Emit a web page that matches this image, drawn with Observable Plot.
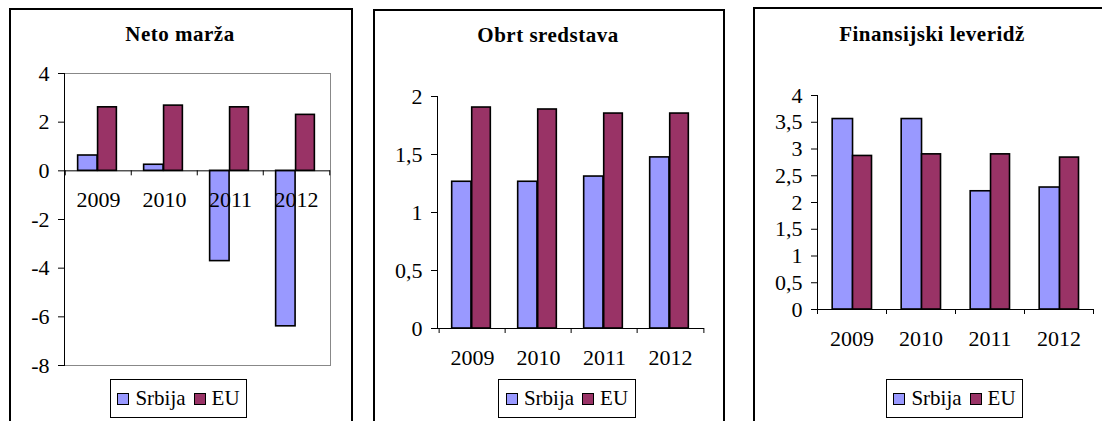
<!DOCTYPE html>
<html><head><meta charset="utf-8">
<script src="https://cdn.jsdelivr.net/npm/d3@7"></script>
<script src="https://cdn.jsdelivr.net/npm/@observablehq/plot@0.6"></script>
<style>
html,body{margin:0;padding:0;background:#fff;}
body{overflow:hidden;width:1102px;height:421px;position:relative;font-family:"Liberation Serif","Times New Roman",serif;color:#000;}
.panel{position:absolute;border:2px solid #000;box-sizing:border-box;}
.title{position:absolute;font-weight:bold;font-size:21px;letter-spacing:0.5px;line-height:24px;white-space:nowrap;transform:translateX(-50%);}
.legend{position:absolute;border:1.5px solid #000;box-sizing:border-box;display:flex;align-items:center;justify-content:center;font-size:21px;background:#fff;}
.sw{display:inline-block;width:12px;height:12px;border:1.5px solid #000;box-sizing:border-box;margin-right:6px;}
.item{display:flex;align-items:center;margin:0 4px;}
.chart{position:absolute;}
</style></head><body>
<script>
// ---- data ----
const years = ["2009", "2010", "2011", "2012"];
const seriesNames = ["Srbija", "EU"];
const seriesColors = ["#9999FF", "#993366"];

const netoSrbija = [0.63, 0.25, -3.71, -6.39];
const netoEU = [2.61, 2.68, 2.61, 2.30];
const netoTicks = [-8, -6, -4, -2, 0, 2, 4];

const obrtSrbija = [1.265, 1.265, 1.31, 1.475];
const obrtEU = [1.905, 1.888, 1.853, 1.853];
const obrtTicks = [0, 0.5, 1, 1.5, 2];

const levSrbija = [3.56, 3.56, 2.21, 2.28];
const levEU = [2.87, 2.90, 2.90, 2.84];
const levTicks = [0, 0.5, 1, 1.5, 2, 2.5, 3, 3.5, 4];

const titles = ["Neto marža", "Obrt sredstava", "Finansijski leveridž"];

const fmt = d => String(d).replace(".", ",");

function addDiv(cls, css, html) {
  const d = document.createElement("div");
  d.className = cls;
  Object.assign(d.style, css);
  if (html != null) d.innerHTML = html;
  document.body.appendChild(d);
  return d;
}

function legend(left, top, width) {
  const d = addDiv("legend", {left: left + "px", top: top + "px", width: width + "px", height: "39px"});
  seriesNames.forEach((n, i) => {
    const it = document.createElement("span");
    it.className = "item";
    it.innerHTML = `<span class="sw" style="background:${seriesColors[i]}"></span><span>${n}</span>`;
    d.appendChild(it);
  });
}

function chart(o) {
  const rows = years.map((year, i) => ({year, srbija: o.srb[i], eu: o.eu[i]}));
  const bw = (o.width - o.ml - o.mr) / years.length;
  const fr = o.fr;
  const marks = [];
  if (o.framed) marks.push(Plot.frame({stroke: "#888"}));
  marks.push(
    Plot.barY(rows, {x: "year", y: "srbija", fill: seriesColors[0], stroke: "#000", strokeWidth: 1.6,
      insetLeft: fr[0] * bw, insetRight: (1 - fr[1]) * bw}),
    Plot.barY(rows, {x: "year", y: "eu", fill: seriesColors[1], stroke: "#000", strokeWidth: 1.6,
      insetLeft: fr[1] * bw, insetRight: (1 - fr[2]) * bw}),
    Plot.ruleY([0], {stroke: "#000", strokeWidth: 1}),
    Plot.ruleX(years, {x: d => d, y1: d => 0, y2: d => 0, dx: -bw / 2, insetTop: 5, stroke: "#000"}),
    Plot.ruleX(years.slice(-1), {x: d => d, y1: d => 0, y2: d => 0, dx: bw / 2, insetTop: 5, stroke: "#000"}),
    Plot.frame({anchor: "left", stroke: "#000"}),
    Plot.axisY({ticks: o.ticks, tickFormat: fmt, tickSize: 6, tickPadding: 9, label: null, stroke: "#000"}),
    Plot.text(rows, {x: "year", y: d => 0, text: "year", dy: 29, fill: "#000"})
  );
  const svg = Plot.plot({
    width: o.width, height: o.height,
    marginLeft: o.ml, marginRight: o.mr, marginTop: o.mt, marginBottom: o.mb,
    x: {domain: years, padding: 0, axis: null},
    y: {domain: o.domain},
    style: {fontFamily: "Liberation Serif", fontSize: "22px", background: "transparent", overflow: "visible", color: "#000"},
    marks
  });
  const wrap = addDiv("chart", {left: o.left + "px", top: o.top + "px"});
  wrap.appendChild(svg);
}

// panel borders
addDiv("panel", {left: "9px", top: "8px", width: "344px", height: "440px"});
addDiv("panel", {left: "373px", top: "9px", width: "352px", height: "440px"});
addDiv("panel", {left: "753px", top: "7px", width: "380px", height: "440px"});

// titles
addDiv("title", {left: "180px", top: "22px"}, titles[0]);
addDiv("title", {left: "548px", top: "23px"}, titles[1]);
addDiv("title", {left: "932px", top: "22px"}, titles[2]);

chart({left: 10, top: 45, width: 340, height: 340, ml: 54, mr: 20, mt: 28, mb: 20,
  domain: [-8, 4], ticks: netoTicks, srb: netoSrbija, eu: netoEU, fr: [0.19, 0.49, 0.78], framed: true});
chart({left: 375, top: 45, width: 345, height: 340, ml: 62, mr: 16, mt: 51, mb: 57,
  domain: [0, 2], ticks: obrtTicks, srb: obrtSrbija, eu: obrtEU, fr: [0.19, 0.49, 0.78], framed: false});
chart({left: 755, top: 45, width: 347, height: 340, ml: 62, mr: 9, mt: 50, mb: 76,
  domain: [0, 4], ticks: levTicks, srb: levSrbija, eu: levEU, fr: [0.22, 0.515, 0.79], framed: false});

legend(110, 379, 137);
legend(498, 379, 138);
legend(886, 379, 137);
</script>
</body></html>
